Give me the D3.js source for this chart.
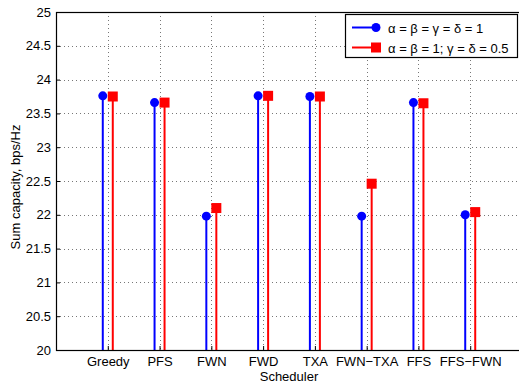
<!DOCTYPE html>
<html><head><meta charset="utf-8">
<script src="https://cdn.jsdelivr.net/npm/d3@7"></script>
<style>body{margin:0;background:#fff}svg{display:block}text{font-family:"Liberation Sans",Arial,Helvetica,sans-serif;fill:#000}</style>
</head><body>
<svg id="c" width="519" height="383"></svg>
<script>
const categories = ["Greedy","PFS","FWN","FWD","TXA","FWN\u2212TXA","FFS","FFS\u2212FWN"];
const seriesA = [23.76,23.66,21.98,23.76,23.75,21.98,23.66,22.00];
const seriesB = [23.75,23.66,22.10,23.76,23.75,22.46,23.65,22.04];
const yTicks = [20,20.5,21,21.5,22,22.5,23,23.5,24,24.5,25];
const seriesNames = ["\u03b1 = \u03b2 = \u03b3 = \u03b4 = 1","\u03b1 = \u03b2 = 1; \u03b3 = \u03b4 = 0.5"];

const FS = "13px";
const svg = d3.select("#c");
const L=56, R=522, T=12, B=350;
const x = d3.scaleLinear().domain([0,9]).range([L,R]);
const y = d3.scaleLinear().domain([20,25]).range([B,T]);
const g = svg.append("g");

// grid
g.selectAll(".gy").data(yTicks.slice(1,-1)).enter().append("line")
 .attr("x1",L).attr("x2",R).attr("y1",d=>Math.round(y(d))+0.5).attr("y2",d=>Math.round(y(d))+0.5)
 .attr("stroke","#777").attr("stroke-width",1).attr("stroke-dasharray","1,3");
g.selectAll(".gx").data(categories).enter().append("line")
 .attr("x1",(d,i)=>Math.round(x(i+1))+0.5).attr("x2",(d,i)=>Math.round(x(i+1))+0.5)
 .attr("y1",T).attr("y2",B)
 .attr("stroke","#777").attr("stroke-width",1).attr("stroke-dasharray","1,3");

// axes
const yAxis = d3.axisLeft(y).tickValues(yTicks).tickSize(-4).tickPadding(5).tickFormat(d=>d3.format("")(d));
const ya = svg.append("g").attr("transform",`translate(${L},0)`).call(yAxis);
ya.select(".domain").remove();
ya.selectAll("line").attr("stroke","#000");
ya.selectAll("text").attr("font-size",FS).attr("fill","#000").attr("font-family","Liberation Sans, Arial, sans-serif");

const xAxis = d3.axisBottom(x).tickValues(d3.range(1,9)).tickSize(-4).tickPadding(7).tickFormat(d=>categories[d-1]);
const xa = svg.append("g").attr("transform",`translate(0,${B})`).call(xAxis);
xa.select(".domain").remove();
xa.selectAll("line").attr("stroke","#000");
xa.selectAll("text").attr("font-size",FS).attr("fill","#000").attr("font-family","Liberation Sans, Arial, sans-serif");

// stems
const off = 5;
g.selectAll(".sa").data(seriesA).enter().append("line")
 .attr("x1",(d,i)=>x(i+1)-off).attr("x2",(d,i)=>x(i+1)-off)
 .attr("y1",y(20)).attr("y2",d=>y(d)).attr("stroke","#0000ff").attr("stroke-width",2);
g.selectAll(".sb").data(seriesB).enter().append("line")
 .attr("x1",(d,i)=>x(i+1)+off).attr("x2",(d,i)=>x(i+1)+off)
 .attr("y1",y(20)).attr("y2",d=>y(d)).attr("stroke","#ff0000").attr("stroke-width",2);
g.selectAll(".ma").data(seriesA).enter().append("circle")
 .attr("cx",(d,i)=>x(i+1)-off).attr("cy",d=>y(d)).attr("r",4.5).attr("fill","#0000ff");
g.selectAll(".mb").data(seriesB).enter().append("rect")
 .attr("x",(d,i)=>x(i+1)+off-5).attr("y",d=>y(d)-5).attr("width",10).attr("height",10).attr("fill","#ff0000");

// frame
svg.append("rect").attr("x",L+0.5).attr("y",T+0.5).attr("width",R-L).attr("height",B-T)
 .attr("fill","none").attr("stroke","#000").attr("stroke-width",1.2);

// labels
svg.append("text").attr("x",289).attr("y",381).attr("text-anchor","middle").attr("font-size",FS).text("Scheduler");
svg.append("text").attr("transform","translate(20,187) rotate(-90)").attr("text-anchor","middle").attr("font-size",FS).text("Sum capacity, bps/Hz");

// legend
const lg = svg.append("g");
lg.append("rect").attr("x",345.5).attr("y",14.5).attr("width",172).attr("height",43)
 .attr("fill","#fff").attr("stroke","#000").attr("stroke-width",1.2);
const rows=[27.5,47.5];
lg.append("line").attr("x1",352).attr("x2",376).attr("y1",rows[0]).attr("y2",rows[0]).attr("stroke","#0000ff").attr("stroke-width",2);
lg.append("circle").attr("cx",376).attr("cy",rows[0]).attr("r",4.5).attr("fill","#0000ff");
lg.append("line").attr("x1",352).attr("x2",376).attr("y1",rows[1]).attr("y2",rows[1]).attr("stroke","#ff0000").attr("stroke-width",2);
lg.append("rect").attr("x",371).attr("y",rows[1]-5).attr("width",10).attr("height",10).attr("fill","#ff0000");
lg.selectAll(".lt").data(seriesNames).enter().append("text")
 .attr("x",388).attr("y",(d,i)=>rows[i]+5).attr("font-size",FS).text(d=>d);
</script>
</body></html>
